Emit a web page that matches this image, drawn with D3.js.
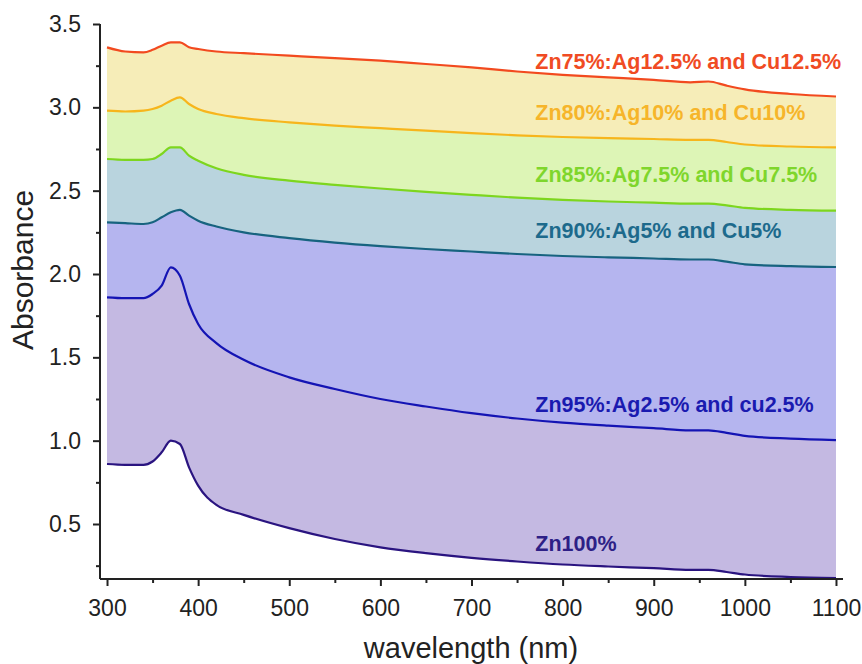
<!DOCTYPE html>
<html><head><meta charset="utf-8">
<script src="https://cdn.jsdelivr.net/npm/d3@7"></script>
<style>body{margin:0;background:#fff}svg{display:block}text{font-family:"Liberation Sans",Arial,sans-serif}</style>
</head><body><svg id="c" width="862" height="664"></svg>
<script>
const wavelengths = [300,320,340,350,360,370,380,390,400,420,450,500,550,600,650,700,750,800,850,900,940,960,980,1000,1050,1100];
const zn75  = [3.36,3.335,3.33,3.345,3.37,3.39,3.39,3.36,3.35,3.335,3.325,3.31,3.295,3.28,3.26,3.24,3.215,3.195,3.18,3.165,3.15,3.155,3.13,3.108,3.08,3.065];
const zn80  = [2.98,2.975,2.98,2.99,3.01,3.04,3.06,3.02,2.99,2.96,2.935,2.91,2.89,2.875,2.86,2.845,2.832,2.822,2.815,2.81,2.805,2.805,2.792,2.777,2.765,2.76];
const zn85  = [2.69,2.685,2.685,2.69,2.72,2.76,2.76,2.71,2.68,2.635,2.595,2.56,2.535,2.513,2.493,2.475,2.458,2.445,2.435,2.428,2.422,2.422,2.412,2.397,2.385,2.38];
const zn90  = [2.31,2.305,2.30,2.31,2.34,2.37,2.385,2.35,2.32,2.285,2.25,2.215,2.188,2.167,2.15,2.135,2.12,2.108,2.1,2.093,2.087,2.087,2.074,2.058,2.047,2.042];
const zn95  = [1.86,1.855,1.855,1.88,1.93,2.04,1.99,1.82,1.70,1.585,1.485,1.38,1.31,1.25,1.205,1.165,1.133,1.108,1.09,1.075,1.062,1.062,1.047,1.029,1.012,1.003];
const zn100 = [0.86,0.855,0.855,0.875,0.93,1.00,0.98,0.84,0.73,0.615,0.555,0.475,0.41,0.36,0.325,0.297,0.275,0.257,0.245,0.235,0.225,0.225,0.212,0.197,0.182,0.176];
const seriesNames = ["Zn75%:Ag12.5% and Cu12.5%","Zn80%:Ag10% and Cu10%","Zn85%:Ag7.5% and Cu7.5%","Zn90%:Ag5% and Cu5%","Zn95%:Ag2.5% and cu2.5%","Zn100%"];
const seriesValues = [zn75, zn80, zn85, zn90, zn95, zn100];
const lineColors = ["#f24a1f","#f7b51c","#7dd61e","#17637f","#1414b4","#2a1480"];
const textColors = ["#f04b23","#f6b52a","#7fd62c","#1d6a8c","#1a1ab0","#2d1f86"];
const fillColors = ["#f6edb8","#ddf5b6","#b9d4de","#b5b5ef","#c4b9e2"];
const labelY = [3.23,2.924,2.552,2.216,1.172,0.339];
const labelX = 770;
const xTicks = [300,400,500,600,700,800,900,1000,1100];
const yTicks = [0.5,1.0,1.5,2.0,2.5,3.0,3.5];

const svg = d3.select("#c");
const x = d3.scaleLinear().domain([292.3,1107.7]).range([100,843]);
const y = d3.scaleLinear().domain([0.17,3.5]).range([579,24]);

for (let i=0;i<fillColors.length;i++){
  const up = seriesValues[i], lo = seriesValues[i+1];
  const area = d3.area().x((d,j)=>x(wavelengths[j])).y0((d,j)=>y(lo[j])).y1((d,j)=>y(up[j])).curve(d3.curveMonotoneX);
  svg.append("path").attr("d",area(wavelengths)).attr("fill",fillColors[i]);
}
seriesValues.forEach((vals,i)=>{
  const line = d3.line().x((d,j)=>x(wavelengths[j])).y((d,j)=>y(vals[j])).curve(d3.curveMonotoneX);
  svg.append("path").attr("d",line(wavelengths)).attr("fill","none").attr("stroke",lineColors[i]).attr("stroke-width",2.2);
});
seriesNames.forEach((n,i)=>{
  svg.append("text").attr("x",x(labelX)).attr("y",y(labelY[i])).attr("fill",textColors[i])
    .attr("font-size",21.5).attr("font-weight","bold").text(n);
});

const gx = svg.append("g").attr("transform","translate(0,579)")
  .call(d3.axisBottom(x).tickValues(xTicks).tickSize(7).tickPadding(14).tickFormat(d3.format("d")));
const gxm = svg.append("g").attr("transform","translate(0,579)")
  .call(d3.axisBottom(x).tickValues(d3.range(350,1100,100)).tickSize(4).tickFormat(""));
const gy = svg.append("g").attr("transform","translate(100,0)")
  .call(d3.axisLeft(y).tickValues(yTicks).tickSize(7).tickPadding(12).tickFormat(d3.format(".1f")));
const gym = svg.append("g").attr("transform","translate(100,0)")
  .call(d3.axisLeft(y).tickValues(d3.range(0.25,3.5,0.5)).tickSize(4).tickFormat(""));
[gx,gxm,gy,gym].forEach(g=>{
  g.selectAll(".domain").attr("stroke","#222").attr("stroke-width",2);
  g.selectAll(".tick line").attr("stroke","#222").attr("stroke-width",2);
  g.selectAll("text").attr("font-size",23).attr("fill","#222").attr("font-family","'Liberation Sans',Arial,sans-serif");
});
gxm.select(".domain").remove(); gym.select(".domain").remove();
gx.select(".domain").attr("d","M100,0H843");
gy.select(".domain").attr("d","M0,24V579");

svg.append("text").attr("x",471).attr("y",658).attr("text-anchor","middle").attr("font-size",29).attr("fill","#222").text("wavelength (nm)");
svg.append("text").attr("transform","translate(33,270) rotate(-90)").attr("text-anchor","middle").attr("font-size",30).attr("fill","#222").text("Absorbance");
</script></body></html>
